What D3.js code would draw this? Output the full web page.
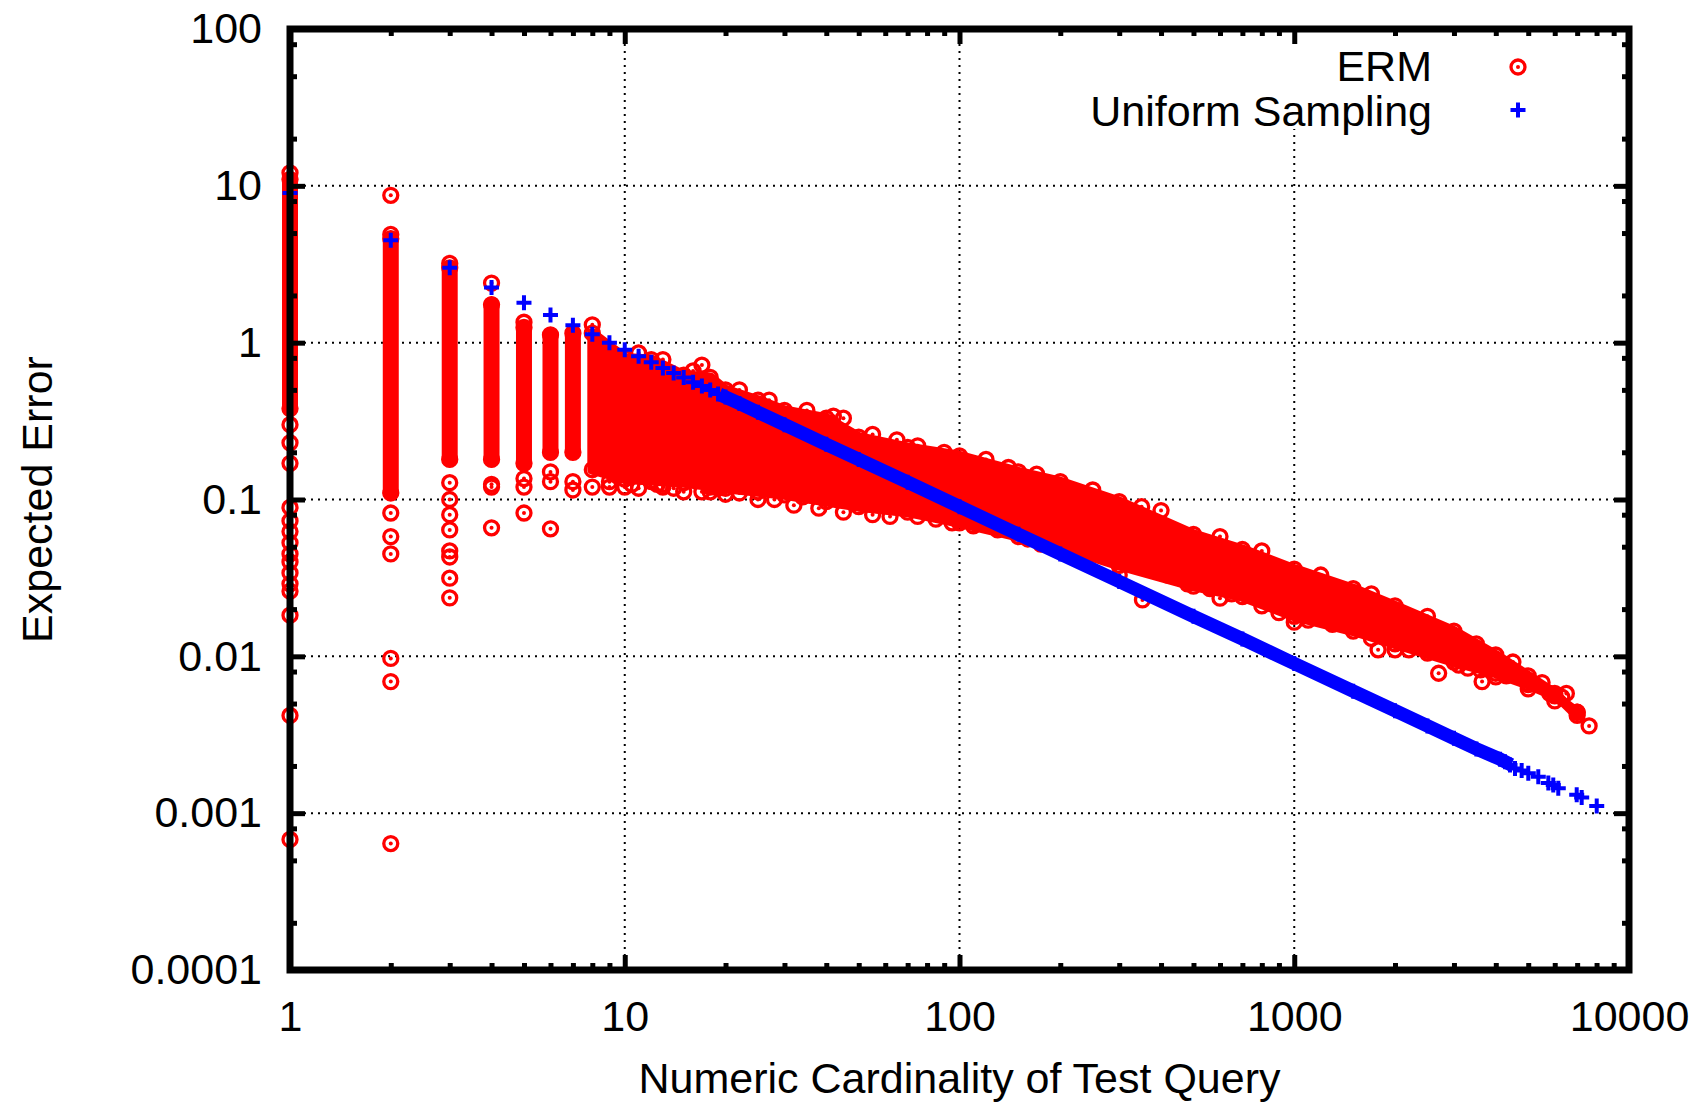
<!DOCTYPE html>
<html>
<head>
<meta charset="utf-8">
<script src="https://cdn.jsdelivr.net/npm/d3@7"></script>
<style>
  body { margin: 0; background: #fff; }
  text { font-family: "Liberation Sans", Arial, sans-serif; }
</style>
</head>
<body>
<script>
// ---- data (x = query cardinality, y = expected error) ----

// ERM: dense vertical columns at the small cardinalities
const ermColX      = [1, 2, 3, 4, 5, 6, 7];
const ermColTop    = [11.0, 4.6, 3.0, 1.75, 1.25, 1.12, 1.15];
const ermColBottom = [0.38, 0.11, 0.18, 0.18, 0.17, 0.2, 0.2];

// ERM: the merged cloud for larger cardinalities (upper / lower edge, circle centres)
const ermBandX  = [8, 10, 12, 15, 18, 20, 25, 30, 40, 50, 70, 100, 150, 200, 300, 500, 700, 1000, 1500, 2000, 3000, 4000, 5000, 6000, 7000];
const ermBandHi = [1.15, 0.8, 0.78, 0.62, 0.6, 0.5, 0.43, 0.37, 0.33, 0.25, 0.215, 0.19, 0.15, 0.13, 0.097, 0.06, 0.048, 0.036, 0.027, 0.021, 0.0145, 0.0102, 0.0075, 0.0058, 0.0042];
const ermBandLo = [0.155, 0.135, 0.132, 0.128, 0.122, 0.118, 0.112, 0.107, 0.097, 0.09, 0.083, 0.071, 0.058, 0.05, 0.038, 0.028, 0.024, 0.018, 0.0145, 0.012, 0.0092, 0.0078, 0.0066, 0.0056, 0.0044];

// ERM: separate circles (column tails, edge circles of the cloud)
const ermOutX = [1, 1, 1, 1, 1, 1, 1, 1, 1, 1, 1, 1, 1, 1, 1, 1,
                 2, 2, 2, 2, 2, 2, 2, 2,
                 3, 3, 3, 3, 3, 3, 3, 3, 3,
                 4, 4, 4, 4,
                 5, 5, 5, 5,
                 6, 6, 6,
                 7, 7, 8, 8, 9, 9, 10, 11, 12, 13, 14, 17, 18, 18,
                 10.5, 11, 12.5, 13, 15, 17, 19, 20, 22, 25, 28, 32, 38, 45, 55, 62, 75, 85, 95, 110, 130, 160, 190, 230, 260,
                 350, 420, 480, 560, 650, 800, 900, 1100, 1300, 1700, 2200, 2500, 3100, 3600, 4300, 5000, 5800, 6300, 7600,
                 13, 16, 22, 27, 35, 42, 45, 55, 65, 75, 90, 120, 140, 170, 250, 350, 400, 600, 800, 1200, 1700, 2500, 3500, 4500, 5500, 6500, 7000,
                 300, 600, 1000, 2000, 2700, 3300, 4000, 5000, 6000,
                 352, 3640, 1780, 34, 175, 210];
const ermOutY = [12.1, 0.30, 0.23, 0.17, 0.089, 0.073, 0.0625, 0.053, 0.045, 0.040, 0.034, 0.029, 0.026, 0.0183, 0.0042, 0.00068,
                 8.7, 4.9, 0.082, 0.058, 0.045, 0.0097, 0.0069, 0.00064,
                 3.2, 0.128, 0.10, 0.08, 0.064, 0.047, 0.043, 0.0315, 0.0236,
                 2.4, 0.125, 0.12, 0.066,
                 0.136, 0.12, 0.082, 1.35,
                 0.15, 0.13, 0.065,
                 0.13, 0.115, 1.3, 0.12, 0.12, 0.13, 0.12, 0.86, 0.13, 0.125, 0.118, 0.72, 0.112, 0.12,
                 0.125, 0.118, 0.125, 0.12, 0.112, 0.112, 0.118, 0.108, 0.11, 0.1, 0.1, 0.092, 0.088, 0.083, 0.08, 0.078, 0.078, 0.075, 0.071, 0.068, 0.064, 0.056, 0.053, 0.048, 0.045,
                 0.038, 0.033, 0.029, 0.027, 0.025, 0.021, 0.019, 0.017, 0.016, 0.013, 0.011, 0.0105, 0.0088, 0.0082, 0.0075, 0.0067, 0.0058, 0.0055, 0.0036,
                 0.78, 0.66, 0.5, 0.43, 0.37, 0.34, 0.33, 0.26, 0.24, 0.22, 0.2, 0.18, 0.16, 0.145, 0.115, 0.09, 0.085, 0.058, 0.047, 0.033, 0.025, 0.018, 0.012, 0.0092, 0.0068, 0.0058, 0.0044,
                 0.033, 0.0235, 0.0165, 0.011, 0.0078, 0.0084, 0.0074, 0.0062, 0.0052,
                 0.0229, 0.0069, 0.011, 0.104, 0.052, 0.047];

// Uniform Sampling
const unifX = [1, 2, 3, 4, 5, 6, 7, 8, 9, 10, 11, 12, 13, 14, 15, 16, 17, 18, 19, 20, 22, 25, 30, 40, 50, 70, 100, 150, 200, 300, 500, 700, 1000, 1500, 2000, 2500, 3000, 3500,
               4119, 4262, 4411, 4565, 4779, 5002, 5358, 5741, 5940, 6148, 6979, 7222, 8009];
const unifY = [9.0, 4.5, 3.0, 2.25, 1.8, 1.5, 1.29, 1.13, 1.0, 0.9, 0.82, 0.75, 0.69, 0.64, 0.6, 0.56, 0.53, 0.5, 0.47, 0.45, 0.41, 0.36, 0.30, 0.225, 0.18, 0.129, 0.09, 0.06, 0.045, 0.03, 0.018, 0.0129, 0.009, 0.006, 0.0045, 0.0036, 0.003, 0.00257,
               0.00221, 0.00213, 0.00203, 0.00193, 0.00187, 0.0018, 0.00171, 0.00156, 0.00151, 0.00144, 0.00131, 0.00126, 0.00111];

const xMajor = [1, 10, 100, 1000, 10000];
const xLabels = ["1", "10", "100", "1000", "10000"];
const yMajor = [0.0001, 0.001, 0.01, 0.1, 1, 10, 100];
const yLabels = ["0.0001", "0.001", "0.01", "0.1", "1", "10", "100"];
const xMinorSteps = [2, 3, 4, 5, 6, 7, 8, 9];
const yMinorSteps = [2, 5, 8];

// ---- layout ----
const width = 1701, height = 1103;
const margin = {left: 290, right: 72, top: 29, bottom: 133};
const fontSize = 43;
const ringR = 7, ringW = 3.3, dotR = 2;
const plusH = 7.5, plusW = 4;

const svg = d3.select("body").append("svg")
    .attr("width", width)
    .attr("height", height);

const x = d3.scaleLog().domain([1, 10000]).range([margin.left, width - margin.right]);
const y = d3.scaleLog().domain([0.0001, 100]).range([height - margin.bottom, margin.top]);

const xMinor = xMajor.slice(0, -1).flatMap(d => xMinorSteps.map(k => d * k));
const yMinor = yMajor.slice(0, -1).flatMap(d => yMinorSteps.map(k => d * k));

// grid
const grid = svg.append("g")
    .attr("stroke", "#000")
    .attr("stroke-width", 2)
    .attr("stroke-dasharray", "2,5");
grid.selectAll("line.gx")
    .data(xMajor.slice(1, -1))
    .enter().append("line")
    .attr("x1", d => x(d)).attr("x2", d => x(d))
    .attr("y1", y.range()[0]).attr("y2", y.range()[1]);
grid.selectAll("line.gy")
    .data(yMajor.slice(1, -1))
    .enter().append("line")
    .attr("y1", d => y(d)).attr("y2", d => y(d))
    .attr("x1", x.range()[0]).attr("x2", x.range()[1]);

// ring marker (gnuplot circle with dot)
function ring(g, cx, cy) {
    g.append("circle").attr("cx", cx).attr("cy", cy).attr("r", ringR)
        .attr("fill", "none").attr("stroke", "#f00").attr("stroke-width", ringW);
    g.append("circle").attr("cx", cx).attr("cy", cy).attr("r", dotR).attr("fill", "#f00");
}
function plus(g, cx, cy) {
    g.append("path")
        .attr("d", `M${cx - plusH},${cy}h${2 * plusH}M${cx},${cy - plusH}v${2 * plusH}`)
        .attr("stroke", "#00f").attr("stroke-width", plusW).attr("fill", "none");
}

const erm = svg.append("g");

// edge rings of columns and cloud first, solid parts cover their inner halves
ermColX.forEach((c, i) => {
    ring(erm, x(c), y(ermColTop[i]));
    ring(erm, x(c), y(ermColBottom[i]));
});
ermBandX.forEach((c, i) => {
    ring(erm, x(c), y(ermBandHi[i]));
    ring(erm, x(c), y(ermBandLo[i]));
});

erm.selectAll("line.col")
    .data(ermColX)
    .enter().append("line")
    .attr("x1", d => x(d)).attr("x2", d => x(d))
    .attr("y1", (d, i) => y(ermColTop[i]))
    .attr("y2", (d, i) => y(ermColBottom[i]))
    .attr("stroke", "#f00")
    .attr("stroke-width", 2 * ringR + 2)
    .attr("stroke-linecap", "round");

const band = ermBandX.map((d, i) => ({x: d, hi: ermBandHi[i], lo: ermBandLo[i]}));
erm.append("path")
    .datum(band)
    .attr("d", d3.area().x(d => x(d.x)).y0(d => y(d.lo)).y1(d => y(d.hi)))
    .attr("fill", "#f00")
    .attr("stroke", "#f00")
    .attr("stroke-width", 10)
    .attr("stroke-linejoin", "round");

ermOutX.forEach((c, i) => ring(erm, x(c), y(ermOutY[i])));

// uniform sampling: the crosses merge into a solid line in the middle
const unif = svg.append("g");
const dense = unifX.map((d, i) => [d, unifY[i]]).filter(d => d[0] >= 20 && d[0] <= 4300);
unif.append("path")
    .datum(dense)
    .attr("d", d3.line().x(d => x(d[0])).y(d => y(d[1])))
    .attr("fill", "none")
    .attr("stroke", "#00f")
    .attr("stroke-width", 13.5)
    .attr("stroke-linecap", "square");
unifX.forEach((c, i) => plus(unif, x(c), y(unifY[i])));

// legend (opaque key box hides the grid)
svg.append("rect")
    .attr("x", 1080).attr("y", margin.top)
    .attr("width", x.range()[1] - 1080).attr("height", 100)
    .attr("fill", "#fff");
const legend = svg.append("g").attr("font-size", fontSize).attr("text-anchor", "end");
legend.append("text").attr("x", 1432).attr("y", 66).attr("dy", "0.35em").text("ERM");
legend.append("text").attr("x", 1432).attr("y", 111).attr("dy", "0.35em").text("Uniform Sampling");
ring(legend, 1518, 67);
plus(legend, 1518, 110);

// axes: inward ticks on all four sides
const x0 = x.range()[0], x1 = x.range()[1], y0 = y.range()[0], y1 = y.range()[1];
function tickStyle(g) {
    g.select(".domain").remove();
    g.selectAll(".tick line").attr("stroke", "#000").attr("stroke-width", 5);
    g.selectAll(".tick text").attr("font-size", fontSize).attr("fill", "#000");
}
svg.append("g").attr("transform", `translate(0,${y0})`)
    .call(d3.axisBottom(x).tickValues(xMajor).tickFormat((d, i) => xLabels[i]).tickSize(-15).tickPadding(30))
    .call(tickStyle)
    .attr("font-family", null);
svg.append("g").attr("transform", `translate(0,${y0})`)
    .call(d3.axisBottom(x).tickValues(xMinor).tickFormat("").tickSize(-7))
    .call(tickStyle);
svg.append("g").attr("transform", `translate(0,${y1})`)
    .call(d3.axisTop(x).tickValues(xMajor).tickFormat("").tickSize(-15))
    .call(tickStyle);
svg.append("g").attr("transform", `translate(0,${y1})`)
    .call(d3.axisTop(x).tickValues(xMinor).tickFormat("").tickSize(-7))
    .call(tickStyle);
svg.append("g").attr("transform", `translate(${x0},0)`)
    .call(d3.axisLeft(y).tickValues(yMajor).tickFormat((d, i) => yLabels[i]).tickSize(-15).tickPadding(28))
    .call(tickStyle)
    .attr("font-family", null);
svg.append("g").attr("transform", `translate(${x0},0)`)
    .call(d3.axisLeft(y).tickValues(yMinor).tickFormat("").tickSize(-7))
    .call(tickStyle);
svg.append("g").attr("transform", `translate(${x1},0)`)
    .call(d3.axisRight(y).tickValues(yMajor).tickFormat("").tickSize(-15))
    .call(tickStyle);
svg.append("g").attr("transform", `translate(${x1},0)`)
    .call(d3.axisRight(y).tickValues(yMinor).tickFormat("").tickSize(-7))
    .call(tickStyle);

// frame
svg.append("rect")
    .attr("x", x0).attr("y", y1)
    .attr("width", x1 - x0).attr("height", y0 - y1)
    .attr("fill", "none").attr("stroke", "#000").attr("stroke-width", 7);

// axis titles
svg.append("text")
    .attr("x", (x0 + x1) / 2).attr("y", 1093)
    .attr("text-anchor", "middle").attr("font-size", fontSize)
    .text("Numeric Cardinality of Test Query");
svg.append("text")
    .attr("transform", `translate(52,${(y0 + y1) / 2}) rotate(-90)`)
    .attr("text-anchor", "middle").attr("font-size", fontSize)
    .text("Expected Error");
</script>
</body>
</html>
